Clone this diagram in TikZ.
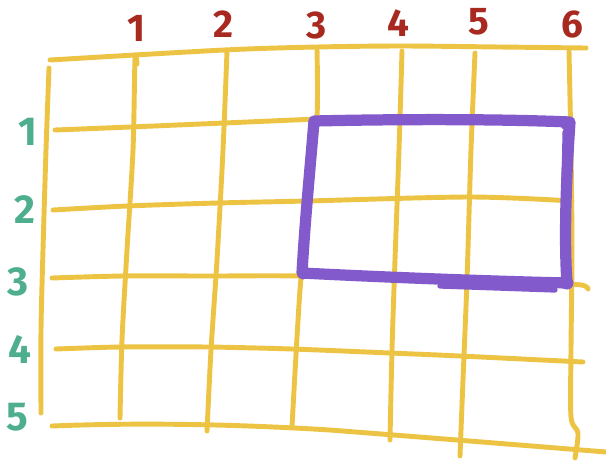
\documentclass[tikz,border=0pt]{standalone}
\usepackage{fontspec}
\setmainfont{Fira Sans}
\definecolor{gridyellow}{HTML}{EDC344}
\definecolor{colred}{HTML}{A8291F}
\definecolor{rowgreen}{HTML}{4FAE8E}
\definecolor{boxpurple}{HTML}{835ACB}
\tikzset{
  gridline/.style={draw=gridyellow,line width=2.8pt,line cap=round,line join=round},
  boxline/.style={draw=boxpurple,line width=6.4pt,line cap=round,line join=round},
  collabel/.style={text=colred,font=\bfseries\fontsize{22}{22}\selectfont,inner sep=0pt},
  rowlabel/.style={text=rowgreen,font=\bfseries\fontsize{23}{23}\selectfont,inner sep=0pt},
}
\begin{document}
\begin{tikzpicture}[x=0.02cm,y=-0.02cm]
  \useasboundingbox (0,0) rectangle (606,461);

  % outer edges
  \draw[gridline] plot[smooth] coordinates {(50,60) (224,50) (317,47) (402,46) (500,47) (586,48)};
  \draw[gridline] plot[smooth] coordinates {(49,68) (46,150) (43,250) (41,330) (41,413)};
  \draw[gridline] (52,426) .. controls (150,422) and (250,425) .. (330,430)
    .. controls (420,437) and (520,445) .. (606,452);

  % rows
  \draw[gridline] plot[smooth] coordinates {(55,130) (130,127) (224,123) (317,119)};
  \draw[gridline] plot[smooth] coordinates {(53,210) (127,206) (217,203) (307,201) (470,197) (572,201)};
  \draw[gridline] plot[smooth] coordinates {(52,278) (123,276) (213,276) (300,276) (450,280) (567,284) (585,286) (588,289)};
  \draw[gridline] plot[smooth] coordinates {(56,349) (120,347) (207,347) (292,349) (390,353) (460,356) (583,362)};

  % columns
  \draw[gridline] plot[smooth] coordinates {(137,64) (135,59) (133,150) (127,250) (122,340) (120,418)};
  \draw[gridline] plot[smooth] coordinates {(227,51) (223,150) (217,260) (211,350) (207,431)};
  \draw[gridline] plot[smooth] coordinates {(317,49) (317,118) (309,200) (300,290) (292,427)};
  \draw[gridline] plot[smooth] coordinates {(402,51) (399,150) (395,260) (392,350) (390,440)};
  \draw[gridline] plot[smooth] coordinates {(475,53) (471,150) (467,280) (463,380) (460,456)};
  \draw[gridline] plot[smooth] coordinates {(569,51) (571,150) (572,250) (571,350) (571,417) (578,433) (575,458)};

  % selection box
  \draw[boxline] (314,121) .. controls (400,119) and (500,119) .. (570,122)
    .. controls (566,180) and (564,240) .. (567,283)
    .. controls (480,281) and (380,277) .. (302,273)
    .. controls (305,220) and (310,170) .. (314,121) -- cycle;
  \draw[boxline,line width=3pt] (440,286) -- (555,290);
  \draw[boxline,line width=4pt] (566,132) -- (564,230);
  \fill[boxpurple] (567,124) circle (6.5) (567,283) circle (6.5) (303,274) circle (5.5);

  % column numbers
  \foreach \n/\x/\y in {1/136/28, 2/223/24, 3/317/25, 4/398/23, 5/479/22, 6/572/24}
    \node[collabel] (c\n) at (\x,\y) {\n};

  % row numbers
  \foreach \n/\x/\y in {1/28/132, 2/25/210, 3/18/282, 4/20/349, 5/17/417}
    \node[rowlabel] (r\n) at (\x,\y) {\n};
\end{tikzpicture}
\end{document}
